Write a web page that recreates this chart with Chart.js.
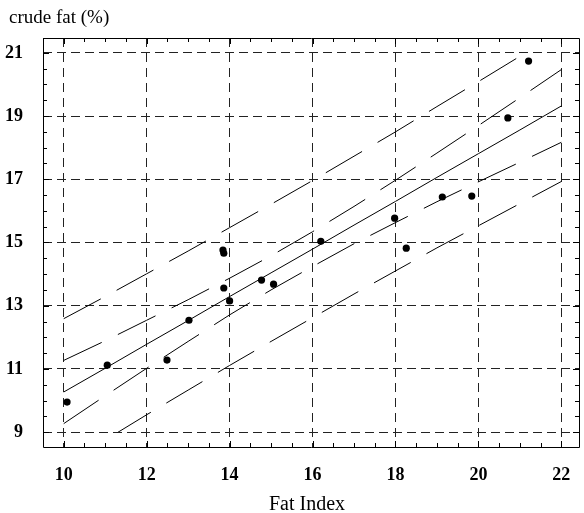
<!DOCTYPE html>
<html>
<head>
<meta charset="utf-8">
<script src="https://cdn.jsdelivr.net/npm/chart.js@4"></script>
<style>
html,body{margin:0;padding:0;background:#fff;}
#wrap{width:584px;height:513px;position:relative;}
</style>
</head>
<body>
<div id="wrap"><canvas id="c"></canvas></div>
<script>
// Observed samples (Fat Index, crude fat %)
const fatIndex = [10.08, 11.05, 12.49, 13.02, 13.84, 13.86, 13.86, 14.0, 14.77, 15.06, 16.2, 17.98, 18.26, 19.13, 19.84, 20.71, 21.21];
const crudeFat = [9.95, 11.12, 11.28, 12.54, 14.76, 14.66, 13.56, 13.15, 13.81, 13.68, 15.04, 15.77, 14.82, 16.44, 16.47, 18.94, 20.74];

// Fitted line and bands
const bandX      = [10, 11, 12, 13, 14, 15, 16, 17, 18, 19, 20, 21, 22];
const fitY       = [10.27, 11.02, 11.78, 12.53, 13.29, 14.04, 14.79, 15.55, 16.30, 17.06, 17.81, 18.56, 19.32];
const confUpper  = [11.27, 11.89, 12.54, 13.19, 13.87, 14.58, 15.34, 16.14, 16.97, 17.83, 18.70, 19.58, 20.47];
const confLower  = [9.27, 10.15, 11.02, 11.87, 12.71, 13.50, 14.24, 14.96, 15.63, 16.29, 16.92, 17.54, 18.17];
const predUpper  = [12.59, 13.29, 14.01, 14.73, 15.47, 16.21, 16.96, 17.73, 18.50, 19.30, 20.09, 20.89, 21.71];
const predLower  = [7.95, 8.75, 9.55, 10.33, 11.11, 11.87, 12.62, 13.37, 14.10, 14.83, 15.53, 16.23, 16.93];

// Tick labels
const xTicks = [10, 12, 14, 16, 18, 20, 22];
const yTicks = [9, 11, 13, 15, 17, 19, 21];
const xTitle = 'Fat Index';
const yTitle = 'crude fat (%)';

const pts = (xs, ys) => xs.map((x, i) => ({x: x, y: ys[i]}));

const FONT = '"Liberation Serif", "Times New Roman", serif';

const bandStyle = {
  type: 'line', borderColor: '#000', borderWidth: 1, pointRadius: 0,
  borderDash: [42, 18], fill: false, tension: 0, band: true
};

const bandClip = {
  id: 'bandClip',
  beforeDatasetDraw(chart, args) {
    const ds = chart.data.datasets[args.index];
    if (!ds.band) return;
    const y = chart.scales.y, a = chart.chartArea;
    const top = y.getPixelForValue(yTicks[yTicks.length - 1]);
    const bot = y.getPixelForValue(yTicks[0]);
    const ctx = chart.ctx;
    ctx.save();
    ctx.beginPath();
    ctx.rect(a.left, top, a.right - a.left, bot - top);
    ctx.clip();
  },
  afterDatasetDraw(chart, args) {
    const ds = chart.data.datasets[args.index];
    if (!ds.band) return;
    chart.ctx.restore();
  }
};

const frame = {
  id: 'frame',
  afterDraw(chart) {
    const ctx = chart.ctx, a = chart.chartArea;
    const xs = chart.scales.x, ys = chart.scales.y;
    ctx.save();
    ctx.strokeStyle = '#000';
    ctx.lineWidth = 1;
    ctx.setLineDash([]);
    ctx.beginPath();
    ctx.rect(Math.round(a.left) + 0.5, Math.round(a.top) + 0.5, Math.round(a.right - a.left) - 1, Math.round(a.bottom - a.top));
    ctx.stroke();
    // inward ticks every 0.5
    ctx.beginPath();
    for (let v = Math.ceil(xs.min * 2) / 2; v <= xs.max; v += 0.5) {
      const px = Math.round(xs.getPixelForValue(v)) + 0.5;
      const len = Number.isInteger(v) && v % 2 === 0 ? 6 : 4;
      ctx.moveTo(px, a.top); ctx.lineTo(px, a.top + len);
      ctx.moveTo(px, a.bottom); ctx.lineTo(px, a.bottom - len);
    }
    for (let v = Math.ceil(ys.min * 2) / 2; v <= ys.max; v += 0.5) {
      const py = Math.round(ys.getPixelForValue(v)) + 0.5;
      const len = Number.isInteger(v) && v % 2 === 1 ? 6 : 4;
      ctx.moveTo(a.left, py); ctx.lineTo(a.left + len, py);
      ctx.moveTo(a.right - 1, py); ctx.lineTo(a.right - 1 - len, py);
    }
    ctx.stroke();
    // titles
    ctx.fillStyle = '#000';
    ctx.font = '19px ' + FONT;
    ctx.textBaseline = 'alphabetic';
    ctx.textAlign = 'left';
    ctx.fillText(yTitle, 9, 23);
    ctx.textAlign = 'center';
    ctx.font = '20px ' + FONT;
    ctx.fillText(xTitle, 307, 510);
    ctx.restore();
  }
};

new Chart(document.getElementById('c'), {
  data: {
    datasets: [
      Object.assign({label: 'pred upper', data: pts(bandX, predUpper)}, bandStyle),
      Object.assign({label: 'conf upper', data: pts(bandX, confUpper)}, bandStyle),
      Object.assign({label: 'conf lower', data: pts(bandX, confLower)}, bandStyle),
      Object.assign({label: 'pred lower', data: pts(bandX, predLower)}, bandStyle),
      {type: 'line', label: 'fit', data: pts(bandX, fitY), borderColor: '#000', borderWidth: 1,
       pointRadius: 0, fill: false, tension: 0},
      {type: 'scatter', label: 'samples', data: pts(fatIndex, crudeFat),
       backgroundColor: '#000', borderColor: '#000', pointRadius: 3.6, pointBorderWidth: 0}
    ]
  },
  options: {
    responsive: true,
    maintainAspectRatio: false,
    animation: false,
    layout: {padding: {top: 38, right: 1, left: 0, bottom: 0}},
    plugins: {legend: {display: false}, tooltip: {enabled: false}, title: {display: false}},
    scales: {
      x: {
        type: 'linear', min: 9.5, max: 22.45,
        afterBuildTicks(s) { s.ticks = xTicks.map(v => ({value: v})); },
        afterFit(s) { s.height = 66; s.paddingLeft = 0; s.paddingRight = 0; },
        ticks: {autoSkip: false, maxRotation: 0, padding: 18, color: '#000',
                font: {family: FONT, size: 18, weight: 'bold'}},
        grid: {color: '#222', lineWidth: 1, drawTicks: false},
        border: {display: false, dash: [9, 6]}
      },
      y: {
        type: 'linear', min: 8.53, max: 21.47,
        afterBuildTicks(s) { s.ticks = yTicks.map(v => ({value: v})); },
        afterFit(s) { s.width = 43; s.paddingTop = 0; s.paddingBottom = 0; },
        ticks: {autoSkip: false, padding: 20, color: '#000',
                font: {family: FONT, size: 18, weight: 'bold'}},
        grid: {color: '#222', lineWidth: 1, drawTicks: false},
        border: {display: false, dash: [9, 5]}
      }
    }
  },
  plugins: [bandClip, frame]
});
</script>
</body>
</html>
